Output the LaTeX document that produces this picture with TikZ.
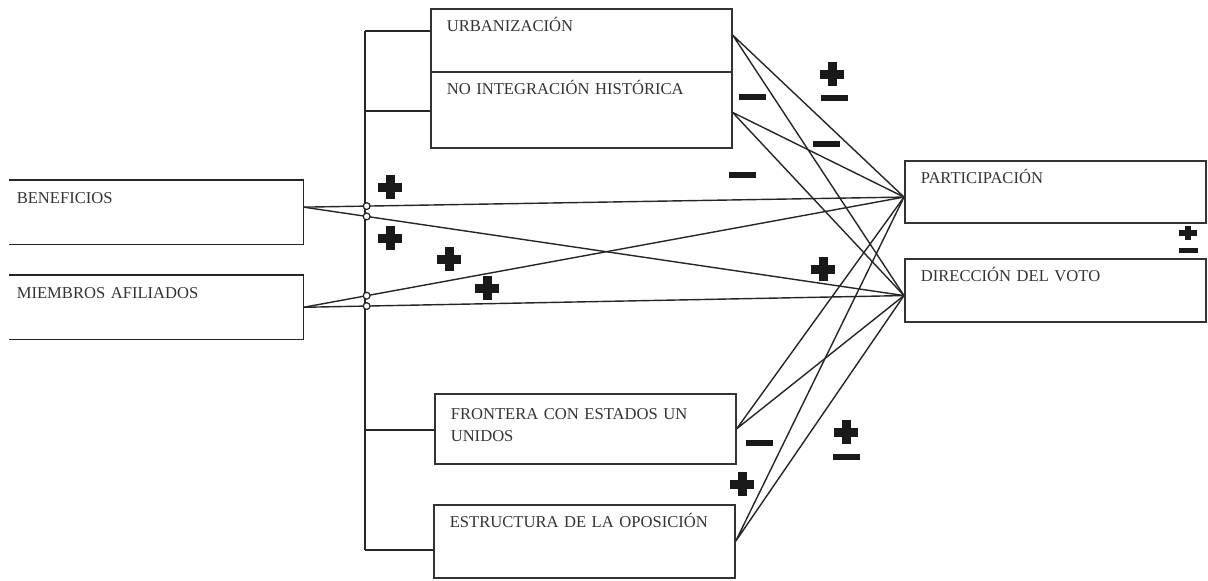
\documentclass[tikz,border=0pt]{standalone}
\usepackage{fontspec}
\setmainfont{Liberation Serif}
\tikzset{
    caja/.style={anchor=north west, draw=black!80, line width=1.1pt,
        inner ysep=0pt, inner xsep=0.4cm, text width=6.725cm, align=left,
        text height=0.575cm, text depth=1cm, text=black!80,
        font=\fontsize{11.8}{15.6}\selectfont},
    enlace/.style={draw=black!85, line width=1pt},
    cruce/.style={circle, draw=black!85, fill=white, line width=0.9pt,
        inner sep=0pt, minimum size=0.17cm},
    mas/.pic={\fill[black!90] (-12,-4.5) rectangle (12,4.5);
        \fill[black!90] (-4.5,-12) rectangle (4.5,12);},
    menos/.pic={\fill[black!90] (-13.5,-2.8) rectangle (13.5,2.8);},
    maschico/.pic={\fill[black!90] (-9,-3.2) rectangle (9,3.2);
        \fill[black!90] (-3.2,-7) rectangle (3.2,7);},
    menoschico/.pic={\fill[black!90] (-9.5,-2.5) rectangle (9.5,2.5);}
}
\begin{document}
\begin{tikzpicture}[x=0.025cm, y=-0.025cm]
    \useasboundingbox (0,0) rectangle (1208,580);

    % Cajas de la izquierda (abiertas)
    \node[caja, draw=none, inner xsep=0.175cm, text width=6.975cm] (ben) at (9,180) {BENEFICIOS};
    \node[caja, draw=none, inner xsep=0.175cm, text width=6.975cm] (mie) at (9,275) {MIEMBROS AFILIADOS};
    \draw[enlace, line width=1.1pt] (ben.north west) -- (ben.north east) -- (ben.south east) -- (ben.south west);
    \draw[enlace, line width=1.1pt] (mie.north west) -- (mie.north east) -- (mie.south east) -- (mie.south west);

    % Cajas del centro
    \node[caja] (urb) at (430,8) {URBANIZACIÓN};
    \node[caja, text depth=1.325cm] (noi) at (430,71) {NO INTEGRACIÓN HISTÓRICA};
    \node[caja, text height=0.65cm, text depth=1.1cm] (fro) at (434,393) {FRONTERA CON ESTADOS UN\\UNIDOS};
    \node[caja, text depth=1.25cm] (est) at (433,504) {ESTRUCTURA DE LA OPOSICIÓN};

    % Cajas de la derecha
    \node[caja, text depth=0.975cm] (par) at (904,160) {PARTICIPACIÓN};
    \node[caja] (dir) at (904,258) {DIRECCIÓN DEL VOTO};

    % Llave vertical
    \coordinate (k1) at (365,31);
    \coordinate (k2) at (365,111);
    \coordinate (k3) at (365,430);
    \coordinate (k4) at (365,550);
    \draw[enlace] (k1) -- (k4);
    \draw[enlace] (k1) -- (urb.west |- k1);
    \draw[enlace] (k2) -- (noi.west |- k2);
    \draw[enlace] (k3) -- (fro.west |- k3);
    \draw[enlace] (k4) -- (est.west |- k4);

    % Enlaces hacia participacion y voto
    \foreach \o in {urb.2.5, noi.-1, fro.east, est.east}
        \draw[enlace] (\o) -- (par.182.7) (\o) -- (dir.182);
    \draw[enlace] (ben.2) -- node[cruce, pos=0.105] (c1) {} (par.182.7);
    \draw[enlace] (ben.2) -- node[cruce, pos=0.105] (c2) {} (dir.182);
    \draw[enlace] (mie.east) -- node[cruce, pos=0.105] (c3) {} (par.182.7);
    \draw[enlace] (mie.east) -- node[cruce, pos=0.105] (c4) {} (dir.182);

    % Signos
    \pic at (390,187) {mas};
    \pic at (390,238) {mas};
    \pic at (449,259) {mas};
    \pic at (487,288) {mas};
    \pic at (823,269) {mas};
    \pic at (742,484) {mas};
    \pic at (832,74) {mas};
    \pic at (834,98) {menos};
    \pic at (846,432) {mas};
    \pic at (846,457) {menos};
    \pic at (752,97) {menos};
    \pic at (826,144) {menos};
    \pic at (742,175) {menos};
    \pic at (759,443) {menos};
    \pic at (1188,233) {maschico};
    \pic at (1188,250) {menoschico};
\end{tikzpicture}
\end{document}
